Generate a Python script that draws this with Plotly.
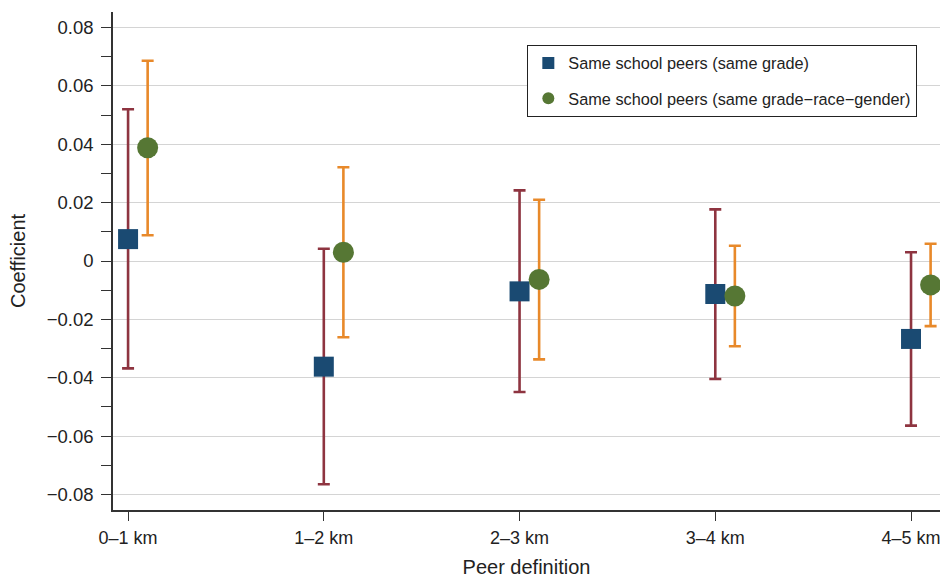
import plotly.graph_objects as go

categories = ["0–1 km", "1–2 km", "2–3 km", "3–4 km", "4–5 km"]

grade_est = [0.0075, -0.0362, -0.0104, -0.0113, -0.0267]
grade_lo = [-0.0368, -0.0765, -0.0449, -0.0404, -0.0564]
grade_hi = [0.0520, 0.0042, 0.0242, 0.0177, 0.0030]

grg_est = [0.0388, 0.0030, -0.0063, -0.0120, -0.0082]
grg_lo = [0.0088, -0.0261, -0.0337, -0.0292, -0.0223]
grg_hi = [0.0686, 0.0321, 0.0210, 0.0052, 0.0059]

yticks = [-0.08, -0.06, -0.04, -0.02, 0, 0.02, 0.04, 0.06, 0.08]

pos = list(range(1, len(categories) + 1))
offset = 0.1

FONT = "Liberation Sans, Arial, Helvetica, sans-serif"
TXT = "#222222"

fig = go.Figure()
fig.add_trace(go.Scatter(
    x=pos, y=grade_est, mode="markers",
    name="Same school peers (same grade)",
    legendgroup="a",
    marker=dict(symbol="square", size=20, color="#1A4A72",
                line=dict(width=0)),
    error_y=dict(type="data", symmetric=False,
                 array=[h - e for h, e in zip(grade_hi, grade_est)],
                 arrayminus=[e - l for l, e in zip(grade_lo, grade_est)],
                 color="#8E3440", thickness=2.6, width=6),
))
fig.add_trace(go.Scatter(
    x=[p + offset for p in pos], y=grg_est, mode="markers",
    name="Same school peers (same grade\u2212race\u2212gender)",
    legendgroup="b",
    marker=dict(symbol="circle", size=21, color="#567734",
                line=dict(width=0)),
    error_y=dict(type="data", symmetric=False,
                 array=[h - e for h, e in zip(grg_hi, grg_est)],
                 arrayminus=[e - l for l, e in zip(grg_lo, grg_est)],
                 color="#E8892A", thickness=2.6, width=6),
))

fig.update_layout(
    width=940, height=578,
    margin=dict(l=113, r=0, t=12, b=68, autoexpand=False),
    paper_bgcolor="white", plot_bgcolor="white",
    font=dict(family=FONT, size=18, color=TXT),
    legend=dict(x=0.501, y=0.934, xanchor="left", yanchor="top",
                bordercolor="#222222", borderwidth=1,
                bgcolor="white", font=dict(size=16.3, color=TXT),
                tracegroupgap=11, traceorder="grouped",
                itemsizing="constant"),
    showlegend=True,
)

fig.update_xaxes(
    range=[0.923, 5.148],
    automargin=False,
    tickmode="array", tickvals=pos, ticktext=categories,
    ticks="outside", ticklen=9, tickwidth=1.2, tickcolor="#333333",
    ticklabeloverflow="allow", ticklabelstandoff=2,
    showline=True, linecolor="#333333", linewidth=1.5,
    showgrid=False, zeroline=False,
    title=dict(text="Peer definition", font=dict(size=20, color=TXT), standoff=14),
    tickfont=dict(size=18, color=TXT),
)
fig.update_yaxes(
    range=[-0.0853, 0.0853],
    automargin=False,
    tickmode="array", tickvals=yticks,
    ticktext=[("0" if v == 0 else (f"{v:.2f}".replace("-", "\u2212"))) for v in yticks],
    ticks="outside", ticklen=10, tickwidth=1.2, tickcolor="#333333",
    ticklabelstandoff=4,
    minor=dict(dtick=0.01, tick0=0, ticks="outside", ticklen=10,
               tickwidth=1.2, tickcolor="#333333", showgrid=False),
    showline=True, linecolor="#333333", linewidth=1.5,
    showgrid=True, gridcolor="#D4D4D4", gridwidth=1.3,
    zeroline=False,
    title=dict(text="Coefficient", font=dict(size=20, color=TXT), standoff=16),
    tickfont=dict(size=18.5, color=TXT),
)

fig.write_html(
    "out.html",
    config={"displayModeBar": False},
    post_script="document.body.style.margin='0';document.body.style.overflow='hidden';",
)
